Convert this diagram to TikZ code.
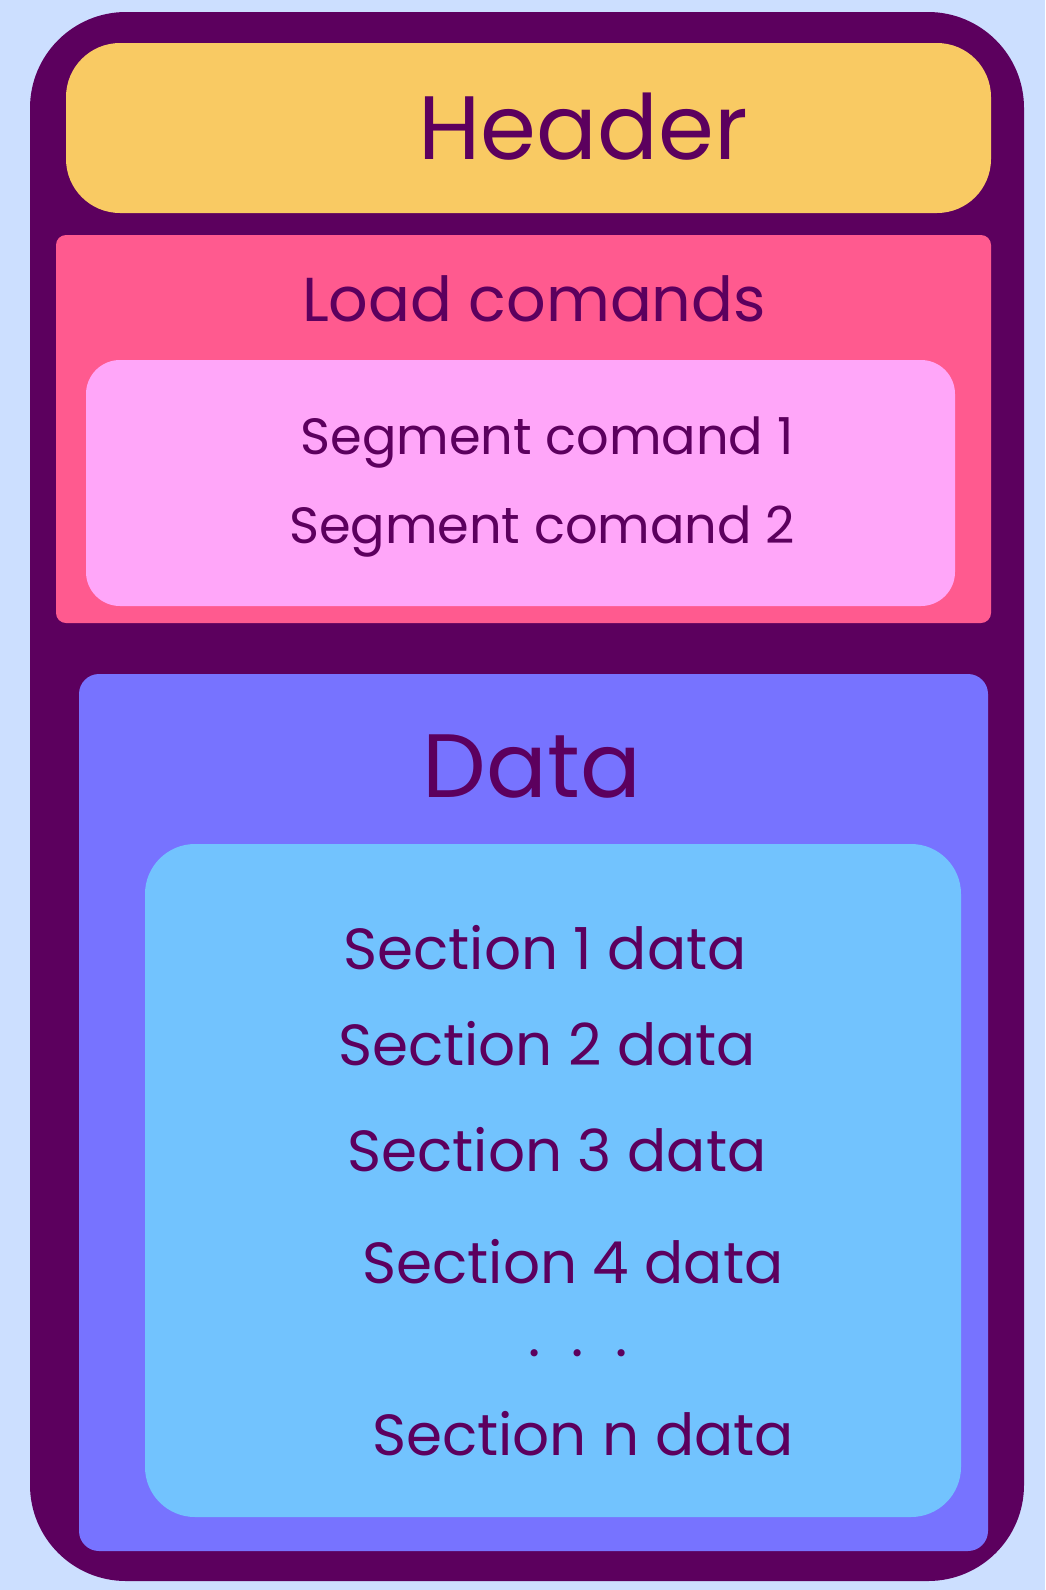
\documentclass[tikz,border=0pt]{standalone}
\usepackage{fontspec}
\setmainfont{Poppins}
\usepackage{tikz}

\definecolor{bgblue}{HTML}{CCDFFF}
\definecolor{ink}{HTML}{5C005E}
\definecolor{hdryellow}{HTML}{F9CA63}
\definecolor{loadpink}{HTML}{FF5A8F}
\definecolor{segpink}{HTML}{FFA6F9}
\definecolor{dataviolet}{HTML}{7773FF}
\definecolor{secblue}{HTML}{72C3FE}

\tikzset{
    label text/.style={text=ink, inner sep=0pt, anchor=center},
    big text/.style={label text, font=\fontsize{45}{50}\selectfont},
    mid text/.style={label text, font=\fontsize{31}{36}\selectfont},
    sec text/.style={label text, font=\fontsize{29}{34}\selectfont},
    small text/.style={label text, font=\fontsize{25.5}{30}\selectfont}
}

\begin{document}
\begin{tikzpicture}[x=0.5pt, y=-0.5pt]
    % Canvas
    \fill[bgblue] (0,0) rectangle (1045,1590);
    \useasboundingbox (0,0) rectangle (1045,1590);

    % Outer frame
    \fill[ink, rounded corners=48pt] (30,12) rectangle (1024,1581);

    % Header
    \fill[hdryellow, rounded corners=27pt] (66,43) rectangle (991,213);
    \node (header) at (583,127) [big text] {Header};

    % Load commands
    \fill[loadpink, rounded corners=5pt] (56,235) rectangle (991,623);
    \node (load) at (534,299) [mid text] {Load comands};
    \fill[segpink, rounded corners=17pt] (86,360) rectangle (955,606);
    \node (seg1) at (547,443) [small text] {Segment comand 1};
    \node (seg2) at (542,532) [small text] {Segment comand 2};

    % Data
    \fill[dataviolet, rounded corners=10pt] (79,674) rectangle (988,1551);
    \node (data) at (532,767) [big text] {Data};
    \fill[secblue, rounded corners=25pt] (145,844) rectangle (961,1517);
    \node (sec1) at (545,948) [sec text] {Section 1 data};
    \node (sec2) at (547,1044) [sec text] {Section 2 data};
    \node (sec3) at (557,1150) [sec text] {Section 3 data};
    \node (sec4) at (573,1262) [sec text] {Section 4 data};
    \node (dots) at (578,1353) [sec text] {.\ \ .\ \ .};
    \node (secn) at (583,1434) [sec text] {Section n data};
\end{tikzpicture}
\end{document}
